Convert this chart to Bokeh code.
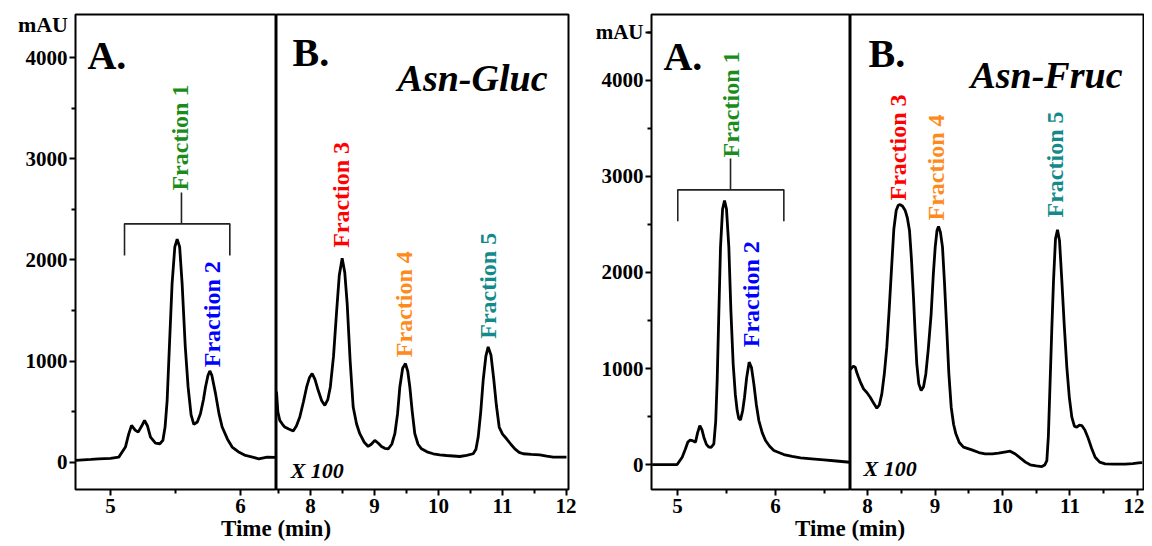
import math
from bokeh.plotting import figure
from bokeh.layouts import row, column
from bokeh.models import Label, FixedTicker, Div, Range1d
from bokeh.embed import file_html
from bokeh.resources import INLINE

FONT = "Liberation Serif"

# ---------------- data (values as displayed on the mAU axis; panel B shown x100) -------------
gluc_a_time = [4.73, 4.85, 4.91, 5.0, 5.064, 5.115, 5.14, 5.162, 5.19, 5.213, 5.24, 5.262, 5.285,
               5.308, 5.346, 5.38, 5.403, 5.42, 5.436, 5.455, 5.474, 5.495, 5.513, 5.532, 5.551,
               5.575, 5.597, 5.62, 5.641, 5.668, 5.692, 5.715, 5.731, 5.75, 5.764, 5.78, 5.808,
               5.835, 5.859, 5.9, 5.936, 5.99, 6.038, 6.1, 6.141, 6.205, 6.27]
gluc_a_mau = [20, 30, 36, 40, 53, 152, 280, 366, 320, 300, 360, 416, 360,
              251, 191, 185, 218, 350, 614, 1200, 1769, 2130, 2205, 2130, 1769,
              1150, 746, 470, 376, 400, 482, 620, 746, 860, 904, 860, 680,
              480, 350, 230, 152, 100, 69, 50, 36, 53, 50]

gluc_b_time = [7.469, 7.49, 7.52, 7.56, 7.598, 7.66, 7.73, 7.78, 7.833, 7.89, 7.94, 7.985, 8.026,
               8.07, 8.12, 8.175, 8.224, 8.27, 8.31, 8.36, 8.406, 8.45, 8.495, 8.535, 8.573, 8.62,
               8.667, 8.72, 8.77, 8.84, 8.901, 8.95, 9.005, 9.06, 9.109, 9.16, 9.214, 9.27, 9.318,
               9.36, 9.396, 9.44, 9.484, 9.52, 9.552, 9.59, 9.63, 9.68, 9.734, 9.82, 9.917, 10.02,
               10.125, 10.23, 10.333, 10.44, 10.542, 10.585, 10.62, 10.66, 10.698, 10.74, 10.776,
               10.82, 10.865, 10.905, 10.948, 11.0, 11.063, 11.13, 11.193, 11.26, 11.323, 11.45,
               11.583, 11.69, 11.792, 11.9, 12.0]
gluc_b_mau = [700, 500, 416, 380, 350, 330, 310, 360, 449, 600, 746, 840, 878,
              820, 713, 610, 564, 620, 746, 1050, 1472, 1850, 2017, 1880, 1571, 1000,
              548, 380, 284, 200, 158, 180, 218, 190, 158, 140, 135, 180, 284,
              480, 746, 930, 977, 900, 746, 500, 284, 180, 135, 105, 86, 76,
              69, 64, 59, 70, 86, 130, 251, 500, 812, 1050, 1142,
              1060, 812, 560, 350, 280, 234, 180, 135, 100, 86, 80,
              76, 62, 53, 52, 53]

fruc_a_time = [4.742, 4.997, 5.048, 5.08, 5.105, 5.13, 5.15, 5.184, 5.205, 5.228, 5.25, 5.269,
               5.295, 5.32, 5.345, 5.371, 5.39, 5.405, 5.42, 5.439, 5.46, 5.48, 5.50, 5.524,
               5.545, 5.568, 5.59, 5.609, 5.625, 5.643, 5.665, 5.684, 5.705, 5.731, 5.755, 5.779,
               5.805, 5.83, 5.865, 5.898, 5.94, 5.983, 6.085, 6.17, 6.255, 6.37, 6.493, 6.62, 6.758]
fruc_a_mau = [0, 0, 76, 160, 233, 255, 250, 233, 330, 406, 360, 285,
              210, 181, 180, 215, 450, 875, 1500, 2264, 2660, 2750, 2660, 2264,
              1600, 1049, 730, 562, 480, 465, 560, 701, 900, 1066, 1010, 840,
              620, 458, 330, 250, 190, 146, 104, 85, 69, 60, 49, 37, 24]

fruc_b_time = [7.748, 7.767, 7.79, 7.818, 7.84, 7.867, 7.9, 7.941, 7.99, 8.04, 8.09, 8.138, 8.175,
               8.212, 8.25, 8.286, 8.32, 8.36, 8.39, 8.425, 8.455, 8.484, 8.52, 8.558, 8.59, 8.622,
               8.65, 8.681, 8.705, 8.73, 8.76, 8.795, 8.83, 8.864, 8.9, 8.943, 8.975, 9.003, 9.03,
               9.052, 9.08, 9.111, 9.14, 9.175, 9.205, 9.24, 9.275, 9.309, 9.36, 9.422, 9.546,
               9.65, 9.743, 9.85, 9.941, 10.03, 10.114, 10.19, 10.262, 10.34, 10.41, 10.5, 10.583,
               10.625, 10.657, 10.68, 10.706, 10.73, 10.756, 10.785, 10.815, 10.845, 10.879,
               10.915, 10.953, 10.99, 11.027, 11.065, 11.101, 11.14, 11.175, 11.22, 11.264,
               11.32, 11.373, 11.44, 11.521, 11.65, 11.817, 11.93, 12.015, 12.07]
fruc_b_mau = [990, 1007, 1025, 1014, 960, 910, 850, 788, 750, 701, 640, 587, 620,
              736, 950, 1222, 1600, 2090, 2450, 2646, 2700, 2708, 2690, 2646, 2570, 2438,
              2150, 1743, 1380, 1049, 840, 771, 810, 944, 1200, 1570, 1980, 2264, 2440,
              2479, 2420, 2264, 1900, 1396, 950, 597, 420, 320, 230, 181, 153,
              125, 111, 110, 118, 130, 139, 110, 69, 25, -3, -15, -21,
              -5, 41, 300, 875, 1400, 1917, 2350, 2444, 2330, 1917,
              1450, 1014, 700, 493, 400, 389, 410, 406, 360, 285,
              170, 76, 25, 7, 5, 4, 10, 17, 20]

# Fraction 1 collection window (min) and bracket level (mAU)
gluc_frac1_window = [5.108, 5.918]
gluc_frac1_level = 2357
fruc_frac1_window = [5.003, 6.085]
fruc_frac1_level = 2861

y_major = [0, 1000, 2000, 3000, 4000]
y_minor = [500, 1500, 2500, 3500, 4500]
xa_major = [5, 6]
xa_minor = [5.5, 6.5]
xb_major = [8, 9, 10, 11, 12]
xb_minor = [7.5, 8.5, 9.5, 10.5, 11.5]

FRAC_COLORS = {1: "#1a8c1a", 2: "#0000ff", 3: "#ff0000", 4: "#ff8a1c", 5: "#138a8a"}

TOP = 14
BOTTOM = 42
H = 475 + TOP + BOTTOM   # frame from y=14 to y=489


def make_fig(width, xr, yr, bl, br, with_y):
    p = figure(width=width, height=H, x_range=Range1d(*xr), y_range=Range1d(*yr),
               output_backend="svg", toolbar_location=None,
               y_axis_location="left" if with_y else None,
               min_border_left=bl, min_border_right=br, min_border_top=TOP,
               min_border_bottom=BOTTOM)
    p.xgrid.visible = False
    p.ygrid.visible = False
    p.outline_line_color = "black"
    p.outline_line_width = 2
    p.outline_line_alpha = 1
    p.background_fill_color = "white"
    p.border_fill_color = "white"
    axes = list(p.xaxis) + (list(p.yaxis) if with_y else [])
    for ax in axes:
        ax.axis_line_color = None
        ax.major_tick_out = 6
        ax.major_tick_in = 0
        ax.minor_tick_out = 4
        ax.minor_tick_in = 0
        ax.major_tick_line_width = 2
        ax.minor_tick_line_width = 2
        ax.major_tick_line_color = "black"
        ax.minor_tick_line_color = "black"
        ax.major_label_text_font = FONT
        ax.major_label_text_font_style = "bold"
        ax.major_label_text_font_size = "21px"
        ax.major_label_text_color = "black"
    p.xaxis.major_label_standoff = 3
    if with_y:
        p.yaxis.major_label_standoff = 2
    return p


def txt(p, x, y, text, size, color="black", style="bold", angle=0.0, align="left",
        baseline="alphabetic"):
    p.add_layout(Label(x=x, y=y, text=text, text_font=FONT, text_font_style=style,
                       text_font_size=size, text_color=color, angle=angle,
                       text_align=align, text_baseline=baseline))


def frac(p, x, y, n):
    txt(p, x, y, "Fraction %d" % n, "24px", color=FRAC_COLORS[n], angle=math.pi / 2,
        align="left", baseline="middle")


def bracket(p, window, level, drop, stem_x, stem_top):
    p.multi_line(xs=[[window[0], window[0], window[1], window[1]], [stem_x, stem_x]],
                 ys=[[level - drop, level, level, level - drop], [level, stem_top]],
                 line_color="#222222", line_width=1.6)


# ---------------- left chart: Asn-Gluc ----------------
yr_left = (-267, 4425)
g1 = make_fig(276, (4.731, 6.277), yr_left, 75, 0, True)
g1.xaxis.ticker = FixedTicker(ticks=xa_major, minor_ticks=xa_minor)
g1.yaxis.ticker = FixedTicker(ticks=y_major, minor_ticks=y_minor)
g1.line(gluc_a_time, gluc_a_mau, line_color="black", line_width=2.8)
bracket(g1, gluc_frac1_window, gluc_frac1_level, 313, 5.546, 2667)
txt(g1, 4.823, 4020, "A.", "40px")
frac(g1, 5.538, 2686, 1)
frac(g1, 5.782, 941, 2)

g2 = make_fig(300, (7.469, 12.031), yr_left, 0, 8, False)
g2.xaxis.ticker = FixedTicker(ticks=xb_major, minor_ticks=xb_minor)
g2.line(gluc_b_time, gluc_b_mau, line_color="black", line_width=2.8)
txt(g2, 7.719, 4049, "B.", "40px")
txt(g2, 11.703, 3802, "Asn-Gluc", "38px", style="bold italic", align="right")
txt(g2, 7.69, -79, "X 100", "22px", style="bold italic")
frac(g2, 8.484, 2120, 3)
frac(g2, 9.464, 1040, 4)
frac(g2, 10.766, 1222, 5)

# ---------------- right chart: Asn-Fruc ----------------
yr_right = (-260, 4687)
f1 = make_fig(274, (4.735, 6.765), yr_right, 75, 0, True)
f1.xaxis.ticker = FixedTicker(ticks=xa_major, minor_ticks=xa_minor)
f1.yaxis.ticker = FixedTicker(ticks=y_major + [4500], minor_ticks=y_minor)
f1.yaxis.major_label_overrides = {4500: "mAU"}
f1.line(fruc_a_time, fruc_a_mau, line_color="black", line_width=2.8)
bracket(f1, fruc_frac1_window, fruc_frac1_level, 327, 5.541, 3188)
txt(f1, 4.857, 4250, "A.", "40px")
frac(f1, 5.541, 3198, 1)
frac(f1, 5.745, 1222, 2)

f2 = make_fig(294, (7.748, 12.089), yr_right, 0, 1, False)
f2.xaxis.ticker = FixedTicker(ticks=xb_major, minor_ticks=xb_minor)
f2.line(fruc_b_time, fruc_b_mau, line_color="black", line_width=2.8)
txt(f2, 8.015, 4281, "B.", "40px")
txt(f2, 11.778, 4052, "Asn-Fruc", "38px", style="bold italic", align="right")
txt(f2, 7.941, -42, "X 100", "22px", style="bold italic")
frac(f2, 8.459, 2750, 3)
frac(f2, 9.022, 2542, 4)
frac(f2, 10.781, 2573, 5)

# axis titles drawn as HTML text below (and over) the figures
base = ("position:absolute;white-space:nowrap;font-family:'Liberation Serif';"
        "font-weight:bold;line-height:1;color:black;")
t_top = 512 - H
m_top = 9 - H
html = ('<div style="position:relative;width:1144px;height:7px;overflow:visible;">'
        '<span style="%sfont-size:23px;top:%dpx;left:276px;transform:translateX(-50%%);">Time (min)</span>'
        '<span style="%sfont-size:23px;top:%dpx;left:850px;transform:translateX(-50%%);">Time (min)</span>'
        '<span style="%sfont-size:22px;top:%dpx;left:68px;transform:translateX(-100%%);">mAU</span>'
        '</div>') % (base, t_top, base, t_top, base, m_top)
xlabel = Div(text=html, width=1144, height=7, margin=(0, 0, 0, 0),
             styles={"overflow": "visible"})

layout = column(row(g1, g2, f1, f2, spacing=0), xlabel, spacing=0)

open("out.html", "w").write(file_html(layout, INLINE))
